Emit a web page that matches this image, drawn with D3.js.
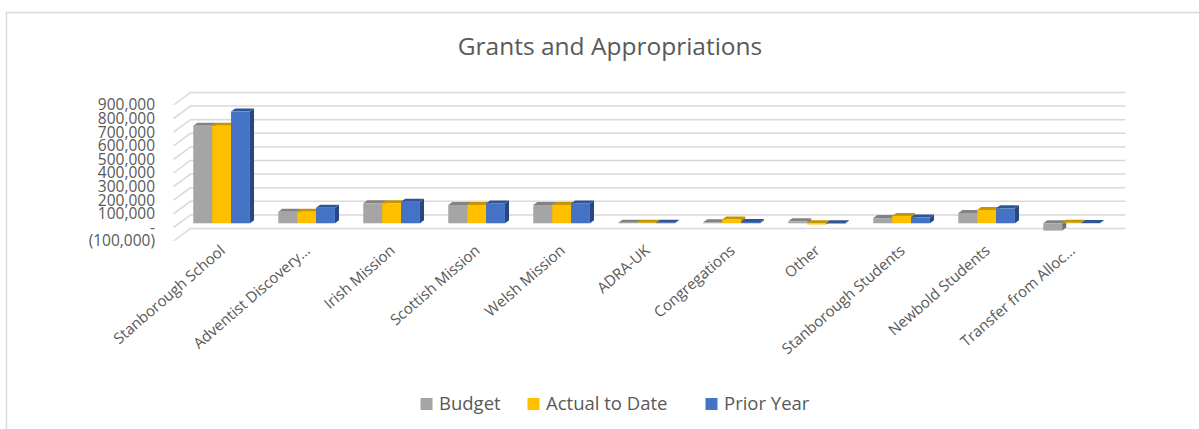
<!DOCTYPE html>
<html>
<head>
<meta charset="utf-8">
<script src="https://cdn.jsdelivr.net/npm/d3@7"></script>
<style>
  body { margin: 0; background: #fff; }
  svg { display: block; font-family: "Open Sans", sans-serif; }
</style>
</head>
<body>
<div id="chart"></div>
<script>
// chart values
const categories = ["Stanborough School", "Adventist Discovery…", "Irish Mission", "Scottish Mission",
  "Welsh Mission", "ADRA-UK", "Congregations", "Other", "Stanborough Students", "Newbold Students",
  "Transfer from Alloc…"];
const seriesNames = ["Budget", "Actual to Date", "Prior Year"];
const budget = [718000, 85000, 147000, 135000, 135000, 4000, 8000, 14000, 38000, 76000, -54000];
const actual = [718000, 85000, 147000, 135000, 135000, 4000, 28000, -9000, 54000, 98000, 3000];
const prior = [821000, 115000, 158000, 146000, 146000, 3000, 10000, -3000, 42000, 110000, 2000];
const yTicks = [-100000, 0, 100000, 200000, 300000, 400000, 500000, 600000, 700000, 800000, 900000];

const width = 1199, height = 429;

// face colours: front, top, side
const colors = [
  ["#A5A5A5", "#828282", "#6E6E6E"],
  ["#FFC000", "#C69500", "#B08500"],
  ["#4472C4", "#2F5597", "#29477F"]
];

const svg = d3.select("#chart").append("svg")
  .attr("width", width)
  .attr("height", height);

// outer chart border
svg.append("rect")
  .attr("x", 6.5).attr("y", 12.5)
  .attr("width", 1300).attr("height", 600)
  .attr("fill", "#fff").attr("stroke", "#D9D9D9").attr("stroke-width", 1.5);

svg.append("text")
  .attr("x", 610).attr("y", 55)
  .attr("text-anchor", "middle")
  .attr("font-size", 24.5)
  .attr("fill", "#595959")
  .text("Grants and Appropriations");

// back wall coordinates, depth offset to front plane
const DX = 17, DY = 12.5;
const x0 = d3.scaleBand().domain(categories).range([190.5, 1125.5]).padding(0);
const bw = x0.bandwidth();
const x1 = d3.scaleBand().domain(seriesNames).range([bw / 6, bw * 5 / 6]).padding(0);
const y = d3.scaleLinear().domain([-100000, 900000]).range([228.5, 92.5]);

// t = 0 front plane, t = 1 back wall
function proj(x, yy, t) {
  return [x - DX * (1 - t), yy + DY * (1 - t)];
}

// gridlines: back wall + side wall
const grid = svg.append("g").attr("stroke", "#D9D9D9").attr("stroke-width", 1.5).attr("fill", "none");
yTicks.forEach(v => {
  const yb = y(v);
  const f = proj(x0.range()[0], yb, 0);
  grid.append("path")
    .attr("d", `M${f[0]},${f[1]}L${x0.range()[0]},${yb}L${x0.range()[1]},${yb}`);
});

// y labels on the front plane
const fmt = d3.format(",");
svg.append("g").selectAll("text").data(yTicks).enter().append("text")
  .attr("x", 155)
  .attr("y", d => proj(0, y(d), 0)[1])
  .attr("dy", "0.35em")
  .attr("text-anchor", "end")
  .attr("font-size", 15.5)
  .attr("fill", "#595959")
  .text(d => d === 0 ? "-" : d < 0 ? "(" + fmt(-d) + ")" : fmt(d));

// bars
const tf = 0.33, tb = 0.57;
const allSeries = [budget, actual, prior];
const bars = svg.append("g");
categories.forEach((c, i) => {
  allSeries.forEach((vals, s) => {
    const v = vals[i];
    const xl = x0(c) + x1(seriesNames[s]);
    const xr = xl + x1.bandwidth();
    const yt = y(Math.max(v, 0)), ybt = y(Math.min(v, 0));
    const p = (x, yy, t) => proj(x, yy, t).join(",");
    // side face
    bars.append("path")
      .attr("d", `M${p(xr, yt, tf)}L${p(xr, yt, tb)}L${p(xr, ybt, tb)}L${p(xr, ybt, tf)}Z`)
      .attr("fill", colors[s][2]);
    // top face
    bars.append("path")
      .attr("d", `M${p(xl, yt, tf)}L${p(xl, yt, tb)}L${p(xr, yt, tb)}L${p(xr, yt, tf)}Z`)
      .attr("fill", colors[s][1]);
    // front face
    const a = proj(xl, yt, tf), b = proj(xr, ybt, tf);
    bars.append("rect")
      .attr("x", a[0]).attr("y", a[1])
      .attr("width", b[0] - a[0]).attr("height", Math.max(0, b[1] - a[1]))
      .attr("fill", colors[s][0]);
  });
});

// category labels, rotated
svg.append("g").selectAll("text").data(categories).enter().append("text")
  .attr("transform", d => {
    const cx = proj(x0(d) + bw / 2, 0, 0)[0] + 10;
    return `translate(${cx},252) rotate(-41)`;
  })
  .attr("text-anchor", "end")
  .attr("font-size", 15)
  .attr("fill", "#595959")
  .text(d => d);

// legend
const legendX = [420.5, 527.5, 705.5];
const legend = svg.append("g");
seriesNames.forEach((n, s) => {
  legend.append("rect")
    .attr("x", legendX[s]).attr("y", 398)
    .attr("width", 12).attr("height", 12)
    .attr("fill", colors[s][0]);
  legend.append("text")
    .attr("x", legendX[s] + 18.5).attr("y", 404)
    .attr("dy", "0.35em")
    .attr("font-size", 18.5)
    .attr("fill", "#595959")
    .text(n);
});
</script>
</body>
</html>
